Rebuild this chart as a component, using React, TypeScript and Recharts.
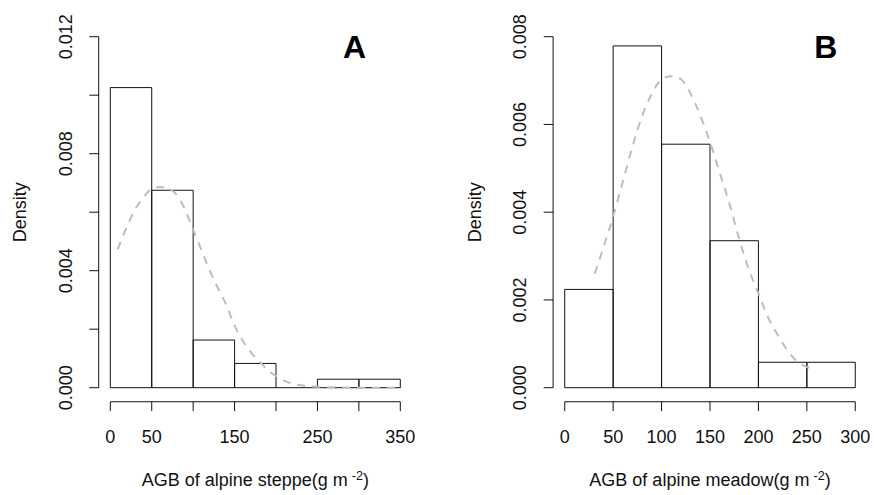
import React from 'react';
import { ComposedChart, XAxis, YAxis, Line, ReferenceArea, ReferenceLine, Label } from 'recharts';

// Panel A: alpine steppe
const binsA = [0, 50, 100, 150, 200, 250, 300];
const densA = [0.01026, 0.00675, 0.00163, 0.00083, 0, 0.00029, 0.00029];
const curveAx = [8.9, 20, 30, 40, 50, 60, 70, 80, 90, 100, 110, 120, 130, 140, 150, 160, 170, 180, 190, 200, 210, 220, 230, 240, 250, 270, 300, 350];
const curveAy = [0.00473, 0.0055, 0.0061, 0.0065, 0.0068, 0.00686, 0.0068, 0.0066, 0.0061, 0.0054, 0.0047, 0.004, 0.0034, 0.00283, 0.00212, 0.0016, 0.0012, 0.0009, 0.0006, 0.0004, 0.00024, 0.00014, 0.00008, 0.00005, 0.00003, 0.00001, 0, 0];
const xTicksA = [0, 50, 100, 150, 200, 250, 300, 350];
const xLabelsA = ['0', '50', '', '150', '', '250', '', '350'];
const yTicksA = [0, 0.002, 0.004, 0.006, 0.008, 0.01, 0.012];
const yLabelsA = ['0.000', '', '0.004', '', '0.008', '', '0.012'];

// Panel B: alpine meadow
const binsB = [0, 50, 100, 150, 200, 250];
const densB = [0.00224, 0.00779, 0.00555, 0.00335, 0.00058, 0.00058];
const curveBx = [31, 40, 50, 60, 70, 80, 90, 100, 110, 120, 130, 140, 150, 160, 170, 180, 190, 200, 210, 220, 230, 240, 253];
const curveBy = [0.0026, 0.0032, 0.0039, 0.0047, 0.0055, 0.0062, 0.0067, 0.00703, 0.0071, 0.00703, 0.0067, 0.0062, 0.0056, 0.0049, 0.0042, 0.0034, 0.0027, 0.00215, 0.0016, 0.0012, 0.00085, 0.0006, 0.00045];
const xTicksB = [0, 50, 100, 150, 200, 250, 300];
const xLabelsB = ['0', '50', '100', '150', '200', '250', '300'];
const yTicksB = [0, 0.002, 0.004, 0.006, 0.008];
const yLabelsB = ['0.000', '0.002', '0.004', '0.006', '0.008'];

const FONT = '"Liberation Sans", Arial, sans-serif';
const FS = 18;
const INK = '#111';

type PanelProps = {
  width: number;
  yAxisWidth: number;
  rightMargin: number;
  bins: number[];
  dens: number[];
  binWidth: number;
  cx: number[];
  cy: number[];
  xTicks: number[];
  xLabels: string[];
  yTicks: number[];
  yLabels: string[];
  xMax: number;
  yMax: number;
  title: string;
};

function Panel(p: PanelProps) {
  const xPad = p.xMax * 0.04;
  const yPad = p.yMax * 0.04;
  const curve = p.cx.map((x, i) => ({ x, d: p.cy[i] }));
  const labelMap = new Map<number, string>();
  p.yTicks.forEach((t, i) => labelMap.set(t, p.yLabels[i]));
  const xLabelMap = new Map<number, string>();
  p.xTicks.forEach((t, i) => xLabelMap.set(t, p.xLabels[i]));

  const YTick = (props: any) => {
    const { x, y, payload } = props;
    const txt = labelMap.get(payload.value) ?? '';
    return (
      <text x={x} y={y} transform={`rotate(-90, ${x}, ${y})`} textAnchor="middle" fontSize={FS} fontFamily={FONT} fill={INK}>
        {txt}
      </text>
    );
  };
  const XTick = (props: any) => {
    const { x, y, payload } = props;
    const txt = xLabelMap.get(payload.value) ?? '';
    return (
      <text x={x} y={y} dy={FS * 0.71} textAnchor="middle" fontSize={FS} fontFamily={FONT} fill={INK}>
        {txt}
      </text>
    );
  };

  return (
    <ComposedChart
      width={p.width}
      height={495}
      margin={{ top: 22.66, right: p.rightMargin, left: 0, bottom: 0 }}
    >
      <XAxis
        type="number"
        dataKey="x"
        domain={[-xPad, p.xMax + xPad]}
        ticks={p.xTicks}
        interval={0}
        allowDataOverflow
        axisLine={false}
        tickLine={{ stroke: INK, strokeWidth: 1 }}
        tickSize={9.4}
        tickMargin={19}
        height={93.26}
        tick={<XTick />}
      >
        <Label
          content={(props: any) => {
            const vb = props.viewBox;
            return (
              <text x={vb.x + vb.width / 2} y={vb.y + 84} textAnchor="middle" fontSize={FS} fontFamily={FONT} fill={INK}>
                {p.title}
                <tspan dx={4} dy={-6} fontSize={FS * 0.7}>-2</tspan>
                <tspan dy={6}>)</tspan>
              </text>
            );
          }}
        />
      </XAxis>
      <YAxis
        type="number"
        domain={[-yPad, p.yMax + yPad]}
        ticks={p.yTicks}
        interval={0}
        allowDataOverflow
        axisLine={false}
        tickLine={{ stroke: INK, strokeWidth: 1 }}
        tickSize={9.4}
        tickMargin={17.2}
        width={p.yAxisWidth}
        tick={<YTick />}
      >
        <Label
          content={(props: any) => {
            const vb = props.viewBox;
            const x = vb.x + vb.width - 72.5;
            const y = vb.y + vb.height / 2;
            return (
              <text x={x} y={y} transform={`rotate(-90, ${x}, ${y})`} textAnchor="middle" fontSize={FS} fontFamily={FONT} fill={INK}>
                Density
              </text>
            );
          }}
        />
      </YAxis>
      <ReferenceLine
        segment={[{ x: -xPad, y: 0 }, { x: -xPad, y: p.yMax }]}
        stroke={INK}
        strokeWidth={1}
        ifOverflow="visible"
      />
      <ReferenceLine
        segment={[{ x: 0, y: -yPad }, { x: p.xMax, y: -yPad }]}
        stroke={INK}
        strokeWidth={1}
        ifOverflow="visible"
      />
      {p.bins.map((lo, i) =>
        p.dens[i] > 0 ? (
          <ReferenceArea
            key={`b${i}`}
            x1={lo}
            x2={lo + p.binWidth}
            y1={0}
            y2={p.dens[i]}
            fill="none"
            fillOpacity={0}
            stroke={INK}
            strokeWidth={1}
            strokeOpacity={1}
            ifOverflow="visible"
          />
        ) : (
          <ReferenceLine
            key={`z${i}`}
            segment={[{ x: lo, y: 0 }, { x: lo + p.binWidth, y: 0 }]}
            stroke={INK}
            strokeWidth={1}
            ifOverflow="visible"
          />
        )
      )}
      <Line
        data={curve}
        dataKey="d"
        type="monotone"
        stroke="#bdbdbd"
        strokeWidth={2}
        strokeDasharray="8 7"
        dot={false}
        activeDot={false}
        isAnimationActive={false}
      />
    </ComposedChart>
  );
}

export default function App() {
  return (
    <div style={{ position: 'absolute', left: 0, top: 0, width: 874, height: 495, background: '#fff' }}>
      <div style={{ display: 'flex' }}>
        <Panel
          width={437}
          yAxisWidth={98.7}
          rightMargin={25.1}
          bins={binsA}
          dens={densA}
          binWidth={50}
          cx={curveAx}
          cy={curveAy}
          xTicks={xTicksA}
          xLabels={xLabelsA}
          yTicks={yTicksA}
          yLabels={yLabelsA}
          xMax={350}
          yMax={0.012}
          title="AGB of alpine steppe(g m"
        />
        <Panel
          width={437}
          yAxisWidth={116.1}
          rightMargin={7.1}
          bins={binsB}
          dens={densB}
          binWidth={50}
          cx={curveBx}
          cy={curveBy}
          xTicks={xTicksB}
          xLabels={xLabelsB}
          yTicks={yTicksB}
          yLabels={yLabelsB}
          xMax={300}
          yMax={0.008}
          title="AGB of alpine meadow(g m"
        />
      </div>
      <svg width={874} height={495} style={{ position: 'absolute', left: 0, top: 0, pointerEvents: 'none' }}>
        <text x={354.5} y={58} textAnchor="middle" fontSize={32} fontWeight="bold" fontFamily={FONT} fill="#000">A</text>
        <text x={825.7} y={58} textAnchor="middle" fontSize={32} fontWeight="bold" fontFamily={FONT} fill="#000">B</text>
      </svg>
    </div>
  );
}
